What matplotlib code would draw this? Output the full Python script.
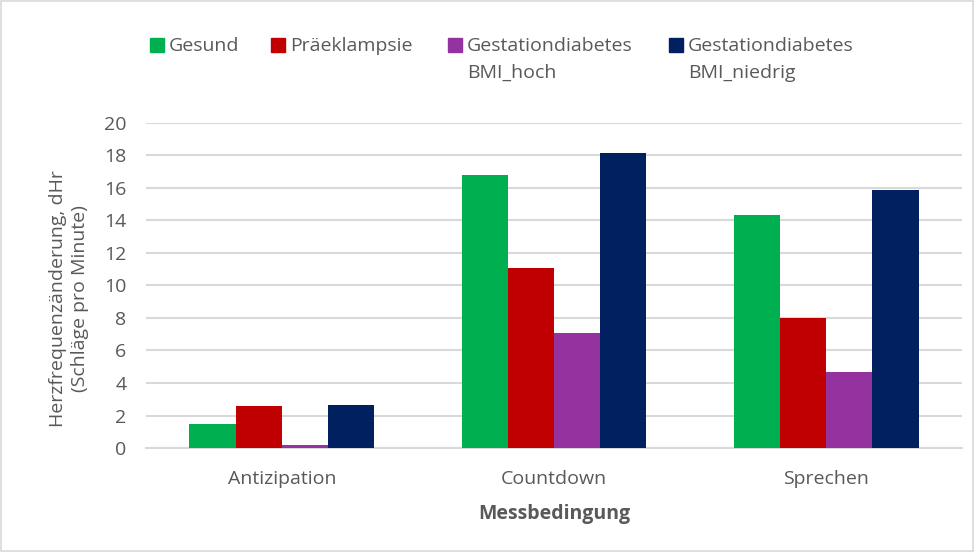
#!/usr/bin/env python3
import matplotlib
matplotlib.use("Agg")
import matplotlib.pyplot as plt
from matplotlib.patches import Rectangle
import numpy as np

categories = ["Antizipation", "Countdown", "Sprechen"]
series_names = ["Gesund", "Präeklampsie", "Gestationdiabetes\nBMI_hoch", "Gestationdiabetes\nBMI_niedrig"]
gesund = [1.45, 16.8, 14.35]
praeeklampsie = [2.6, 11.05, 8.0]
gd_bmi_hoch = [0.2, 7.1, 4.7]
gd_bmi_niedrig = [2.65, 18.15, 15.85]
colors = ["#00B050", "#C00000", "#9433A0", "#002060"]
yticks = [0, 2, 4, 6, 8, 10, 12, 14, 16, 18, 20]

TXT = "#595959"
GRID = "#D9D9D9"
FS = 14
plt.rcParams["font.family"] = ["Open Sans", "DejaVu Sans"]

fig = plt.figure(figsize=(9.75, 5.52), dpi=100)
ax = fig.add_axes([0.1497, 0.1884, 0.8370, 0.5888])

x = np.arange(len(categories))
w = 0.17
values = [gesund, praeeklampsie, gd_bmi_hoch, gd_bmi_niedrig]
for i, (vals, col) in enumerate(zip(values, colors)):
    ax.bar(x + (i - 1.5) * w, vals, width=w, color=col, zorder=3)

ax.set_xlim(-0.5, len(categories) - 0.5)
ax.set_ylim(0, 20)
ax.set_yticks(yticks)
ax.yaxis.grid(True, color=GRID, linewidth=1.5, zorder=0)
ax.set_xticks(x)
ax.set_xticklabels(categories)
ax.tick_params(axis="both", length=0, colors=TXT, labelsize=FS)
ax.tick_params(axis="x", pad=16)
ax.tick_params(axis="y", pad=14)
for s in ["top", "right", "left"]:
    ax.spines[s].set_visible(False)
ax.spines["bottom"].set_color(GRID)
ax.spines["bottom"].set_linewidth(1.5)

ax.set_xlabel("Messbedingung", color=TXT, fontsize=FS, fontweight="bold", labelpad=11)
ax.set_ylabel("Herzfrequenzänderung, dHr\n(Schläge pro Minute)", color=TXT, fontsize=FS,
              linespacing=1.25)
ax.yaxis.set_label_coords(-0.07, 0.46)

# legend drawn by hand so the swatch sits on the first line of two-line labels
leg_x = [150, 271, 448, 669]
for lx, name, col in zip(leg_x, series_names, colors):
    fig.patches.append(Rectangle((lx / 975, 1 - 52 / 552), 14 / 975, 14 / 552,
                                 transform=fig.transFigure, color=col))
    fig.text((lx + 19) / 975, 1 - 37 / 552, name, color=TXT, fontsize=FS,
             va="top", ha="left", linespacing=1.62)

# outer frame
fig.patches.append(Rectangle((0.001, 0.001), 0.997, 0.997, transform=fig.transFigure,
                             fill=False, edgecolor=GRID, linewidth=1.2))

fig.savefig("out.png", dpi=100)
